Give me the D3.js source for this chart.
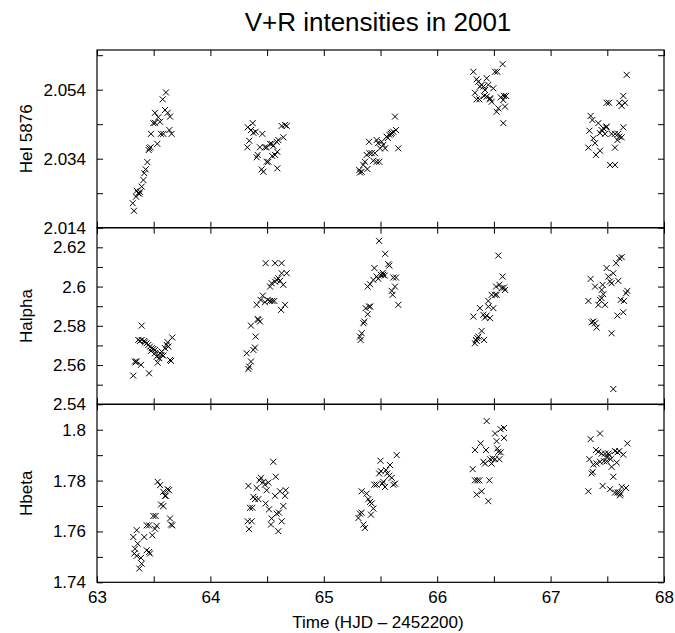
<!DOCTYPE html>
<html><head><meta charset="utf-8">
<script src="https://cdn.jsdelivr.net/npm/d3@7"></script>
<style>
html,body{margin:0;padding:0;background:#fff;}
svg{display:block;font-family:"Liberation Sans",Arial,Helvetica,sans-serif;}
</style></head>
<body>
<svg id="chart" width="675" height="633"></svg>
<script>
// ---------- DATA ----------
const chartTitle = "V+R intensities in 2001";
const xLabel = "Time (HJD \u2013 2452200)";
const xTickValues = [63,63.5,64,64.5,65,65.5,66,66.5,67,67.5,68];
const xTickLabels = ["63","","64","","65","","66","","67","","68"];

const panelNames = ["HeI 5876","Halpha","Hbeta"];
const heIDomain = [2.014, 2.0655];
const halphaDomain = [2.54, 2.63];
const hbetaDomain = [1.74, 1.81];
const heITicks = [2.014,2.024,2.034,2.044,2.054,2.064];
const heITickLabels = ["2.014","","2.034","","2.054",""];
const halphaTicks = [2.54,2.55,2.56,2.57,2.58,2.59,2.60,2.61,2.62];
const halphaTickLabels = ["2.54","","2.56","","2.58","","2.6","","2.62"];
const hbetaTicks = [1.74,1.75,1.76,1.77,1.78,1.79,1.80];
const hbetaTickLabels = ["1.74","","1.76","","1.78","","1.8"];

const heI5876 = [
[63.326,2.0189],[63.315,2.0211],[63.344,2.0230],[63.350,2.0247],[63.364,2.0240],[63.374,2.0238],[63.379,2.0244],[63.394,2.0259],[63.409,2.0278],[63.417,2.0298],[63.429,2.0309],[63.444,2.0330],[63.456,2.0365],[63.462,2.0370],[63.473,2.0373],[63.476,2.0412],[63.497,2.0443],[63.511,2.0444],[63.532,2.0383],[63.511,2.0473],[63.541,2.0460],[63.556,2.0447],[63.564,2.0412],[63.585,2.0412],[63.579,2.0512],[63.608,2.0532],[63.600,2.0481],[63.623,2.0473],[63.644,2.0462],[63.638,2.0423],[63.658,2.0412],
[64.329,2.0431],[64.343,2.0392],[64.326,2.0373],[64.373,2.0443],[64.358,2.0423],[64.379,2.0415],[64.399,2.0418],[64.458,2.0412],[64.417,2.0351],[64.408,2.0344],[64.437,2.0373],[64.481,2.0373],[64.496,2.0373],[64.526,2.0383],[64.540,2.0383],[64.555,2.0377],[64.584,2.0389],[64.599,2.0394],[64.643,2.0402],[64.628,2.0435],[64.658,2.0438],[64.673,2.0435],[64.570,2.0351],[64.590,2.0360],[64.496,2.0331],[64.511,2.0331],[64.452,2.0309],[64.467,2.0302],[64.590,2.0312],[64.545,2.0348],
[65.319,2.0300],[65.334,2.0302],[65.313,2.0307],[65.384,2.0310],[65.349,2.0322],[65.363,2.0331],[65.378,2.0351],[65.402,2.0356],[65.422,2.0356],[65.451,2.0356],[65.437,2.0334],[65.466,2.0331],[65.490,2.0331],[65.399,2.0389],[65.466,2.0394],[65.478,2.0385],[65.510,2.0389],[65.525,2.0380],[65.540,2.0370],[65.496,2.0370],[65.554,2.0404],[65.578,2.0409],[65.599,2.0415],[65.613,2.0418],[65.637,2.0423],[65.628,2.0462],[65.657,2.0370],[65.590,2.0412],[65.565,2.0400],
[66.319,2.0592],[66.348,2.0570],[66.363,2.0563],[66.392,2.0554],[66.377,2.0549],[66.407,2.0549],[66.436,2.0573],[66.451,2.0554],[66.422,2.0539],[66.333,2.0531],[66.348,2.0512],[66.372,2.0512],[66.413,2.0522],[66.436,2.0520],[66.466,2.0512],[66.480,2.0505],[66.495,2.0544],[66.510,2.0592],[66.530,2.0592],[66.577,2.0614],[66.560,2.0518],[66.589,2.0522],[66.607,2.0522],[66.583,2.0510],[66.598,2.0491],[66.524,2.0476],[66.539,2.0486],[66.583,2.0443],[66.466,2.0515],
[67.353,2.0464],[67.368,2.0452],[67.342,2.0421],[67.377,2.0399],[67.392,2.0385],[67.333,2.0372],[67.400,2.0351],[67.436,2.0363],[67.421,2.0443],[67.450,2.0423],[67.436,2.0414],[67.465,2.0428],[67.489,2.0431],[67.494,2.0433],[67.480,2.0412],[67.494,2.0502],[67.515,2.0502],[67.538,2.0412],[67.568,2.0412],[67.597,2.0412],[67.606,2.0404],[67.627,2.0402],[67.641,2.0431],[67.589,2.0394],[67.568,2.0372],[67.606,2.0502],[67.627,2.0493],[67.656,2.0502],[67.641,2.0522],[67.671,2.0583],[67.524,2.0322],[67.568,2.0322]
];

const halpha = [
[63.320,2.5546],[63.335,2.5618],[63.350,2.5618],[63.341,2.5614],[63.388,2.5601],[63.394,2.5801],[63.459,2.5558],[63.364,2.5728],[63.379,2.5723],[63.394,2.5728],[63.417,2.5723],[63.423,2.5716],[63.438,2.5711],[63.453,2.5703],[63.467,2.5694],[63.482,2.5686],[63.497,2.5682],[63.476,2.5672],[63.511,2.5660],[63.526,2.5643],[63.541,2.5652],[63.556,2.5660],[63.570,2.5652],[63.585,2.5648],[63.535,2.5612],[63.550,2.5635],[63.600,2.5686],[63.614,2.5703],[63.629,2.5694],[63.623,2.5716],[63.664,2.5740],[63.644,2.5626],[63.653,2.5621],[63.570,2.5669],[63.511,2.5677],
[64.335,2.5580],[64.343,2.5592],[64.358,2.5618],[64.320,2.5660],[64.379,2.5677],[64.393,2.5689],[64.399,2.5745],[64.358,2.5801],[64.423,2.5830],[64.437,2.5822],[64.417,2.5835],[64.408,2.5907],[64.443,2.5932],[64.462,2.5954],[64.481,2.5920],[64.505,2.5932],[64.526,2.5927],[64.546,2.5927],[64.564,2.5927],[64.526,2.6000],[64.540,2.6017],[64.570,2.6025],[64.584,2.6034],[64.599,2.6042],[64.614,2.6029],[64.643,2.6009],[64.628,2.6068],[64.673,2.6068],[64.487,2.6119],[64.570,2.6119],[64.628,2.6119],[64.623,2.5881],[64.658,2.5907],
[65.319,2.5745],[65.325,2.5728],[65.334,2.5762],[65.349,2.5813],[65.357,2.5822],[65.369,2.5890],[65.387,2.5859],[65.399,2.5898],[65.410,2.5898],[65.387,2.6000],[65.407,2.6012],[65.437,2.6034],[65.446,2.6094],[65.466,2.6051],[65.488,2.6233],[65.541,2.6167],[65.503,2.6060],[65.523,2.6060],[65.537,2.6056],[65.569,2.6114],[65.578,2.6107],[65.613,2.6046],[65.637,2.6046],[65.628,2.6000],[65.599,2.5978],[65.607,2.5958],[65.657,2.5907],[65.480,2.6040],[65.520,2.6070],
[66.319,2.5847],[66.333,2.5711],[66.342,2.5728],[66.354,2.5737],[66.363,2.5745],[66.348,2.5723],[66.392,2.5774],[66.413,2.5728],[66.377,2.5890],[66.407,2.5856],[66.422,2.5842],[66.436,2.5852],[66.451,2.5898],[66.466,2.5839],[66.451,2.5927],[66.480,2.5958],[66.495,2.5890],[66.510,2.5958],[66.524,2.5958],[66.519,2.6000],[66.548,2.6009],[66.577,2.6051],[66.568,2.5992],[66.589,2.5995],[66.598,2.5983],[66.539,2.6158],
[67.353,2.6039],[67.392,2.6000],[67.333,2.5927],[67.377,2.5822],[67.392,2.5813],[67.406,2.5791],[67.362,2.5818],[67.421,2.5907],[67.436,2.5932],[67.450,2.5941],[67.465,2.5961],[67.480,2.5907],[67.459,2.6009],[67.450,2.5983],[67.494,2.6094],[67.509,2.6051],[67.524,2.6026],[67.538,2.6017],[67.553,2.6068],[67.577,2.6119],[67.606,2.6145],[67.627,2.6150],[67.597,2.6029],[67.538,2.5762],[67.589,2.5852],[67.641,2.5869],[67.618,2.5932],[67.647,2.5927],[67.665,2.5966],[67.677,2.5978],[67.553,2.5478]
];

const hbeta = [
[63.320,1.7578],[63.350,1.7605],[63.359,1.7552],[63.335,1.7532],[63.329,1.7513],[63.350,1.7504],[63.388,1.7496],[63.394,1.7473],[63.373,1.7454],[63.417,1.7578],[63.438,1.7624],[63.459,1.7624],[63.438,1.7526],[63.459,1.7519],[63.467,1.7513],[63.488,1.7585],[63.511,1.7611],[63.497,1.7661],[63.517,1.7661],[63.526,1.7622],[63.535,1.7795],[63.556,1.7782],[63.564,1.7706],[63.585,1.7700],[63.600,1.7740],[63.585,1.7756],[63.606,1.7740],[63.623,1.7766],[63.635,1.7762],[63.644,1.7651],[63.653,1.7627],[63.664,1.7624],
[64.335,1.7779],[64.329,1.7640],[64.364,1.7640],[64.340,1.7609],[64.349,1.7693],[64.370,1.7693],[64.379,1.7736],[64.393,1.7727],[64.408,1.7771],[64.423,1.7727],[64.432,1.7801],[64.446,1.7811],[64.467,1.7795],[64.481,1.7784],[64.496,1.7762],[64.511,1.7792],[64.487,1.7710],[64.517,1.7687],[64.540,1.7651],[64.534,1.7627],[64.555,1.7874],[64.576,1.7815],[64.570,1.7740],[64.584,1.7670],[64.605,1.7674],[64.599,1.7601],[64.614,1.7758],[64.628,1.7640],[64.643,1.7700],[64.658,1.7740],[64.664,1.7762],
[65.305,1.7653],[65.319,1.7670],[65.334,1.7674],[65.349,1.7627],[65.363,1.7614],[65.334,1.7758],[65.378,1.7749],[65.393,1.7727],[65.407,1.7716],[65.422,1.7710],[65.416,1.7666],[65.437,1.7690],[65.446,1.7784],[65.466,1.7784],[65.488,1.7828],[65.503,1.7837],[65.500,1.7878],[65.516,1.7788],[65.525,1.7795],[65.540,1.7775],[65.549,1.7841],[65.560,1.7828],[65.578,1.7819],[65.584,1.7861],[65.599,1.7811],[65.613,1.7784],[65.628,1.7788],[65.643,1.7900],
[66.313,1.7845],[66.333,1.7920],[66.383,1.7946],[66.430,1.7920],[66.333,1.7801],[66.354,1.7801],[66.372,1.7801],[66.460,1.7801],[66.348,1.7745],[66.392,1.7758],[66.451,1.7719],[66.407,1.7874],[66.422,1.7867],[66.480,1.7867],[66.489,1.7887],[66.466,1.7884],[66.510,1.7884],[66.548,1.7884],[66.530,1.7926],[66.539,1.7913],[66.560,1.7911],[66.524,1.7955],[66.510,1.7985],[66.589,1.7968],[66.560,1.8002],[66.589,1.8007],[66.436,1.8034],
[67.353,1.7963],[67.436,1.7985],[67.400,1.7920],[67.421,1.7913],[67.450,1.7906],[67.480,1.7906],[67.509,1.7906],[67.494,1.7893],[67.518,1.7900],[67.530,1.7884],[67.568,1.7916],[67.589,1.7911],[67.606,1.7916],[67.641,1.7902],[67.677,1.7946],[67.342,1.7884],[67.377,1.7863],[67.406,1.7867],[67.436,1.7874],[67.471,1.7876],[67.494,1.7876],[67.538,1.7854],[67.583,1.7871],[67.371,1.7834],[67.362,1.7828],[67.333,1.7758],[67.459,1.7779],[67.524,1.7766],[67.553,1.7815],[67.568,1.7753],[67.589,1.7753],[67.606,1.7753],[67.618,1.7749],[67.627,1.7775],[67.665,1.7771],[67.612,1.7742]
];

// ---------- LAYOUT ----------
const W = 675, H = 633;
const left = 97, right = 664;
const bounds = [50, 227.7, 404.3, 582.3];
const font = 17;

const svg = d3.select("#chart");
const x = d3.scaleLinear().domain([63,68]).range([left,right]);

const panels = [
  {name: panelNames[0], domain: heIDomain, ticks: heITicks, labels: heITickLabels, data: heI5876},
  {name: panelNames[1], domain: halphaDomain, ticks: halphaTicks, labels: halphaTickLabels, data: halpha},
  {name: panelNames[2], domain: hbetaDomain, ticks: hbetaTicks, labels: hbetaTickLabels, data: hbeta}
];

svg.append("text")
  .attr("x", 378).attr("y", 30.5)
  .attr("text-anchor","middle")
  .attr("font-size", 26)
  .text(chartTitle);

const cross = "M-3,-3L3,3M3,-3L-3,3";

panels.forEach((p, i) => {
  const top = bounds[i], bot = bounds[i+1];
  const y = d3.scaleLinear().domain(p.domain).range([bot, top]);
  const g = svg.append("g");

  // y axis left (ticks inward, labels outside)
  const yl = g.append("g").attr("transform", `translate(${left},0)`)
    .call(d3.axisLeft(y).tickValues(p.ticks)
      .tickFormat((d,k) => p.labels[k]).tickSize(-6).tickPadding(11).tickSizeOuter(0));
  const yr = g.append("g").attr("transform", `translate(${right},0)`)
    .call(d3.axisRight(y).tickValues(p.ticks).tickFormat("").tickSize(-6).tickSizeOuter(0));
  const xt = g.append("g").attr("transform", `translate(0,${top})`)
    .call(d3.axisTop(x).tickValues(xTickValues).tickFormat("").tickSize(-6).tickSizeOuter(0));
  const xb = g.append("g").attr("transform", `translate(0,${bot})`)
    .call(d3.axisBottom(x).tickValues(xTickValues)
      .tickFormat((d,k) => i === 2 ? xTickLabels[k] : "").tickSize(-6).tickPadding(9).tickSizeOuter(0));

  [yl, yr, xt, xb].forEach(a => {
    a.select(".domain").remove();
    a.selectAll("line").attr("stroke","#000").attr("stroke-width",1);
    a.selectAll("text").attr("font-size", font).attr("fill","#000")
      .attr("font-family",'"Liberation Sans",Arial,Helvetica,sans-serif');
  });

  // frame
  g.append("rect")
    .attr("x", left).attr("y", top)
    .attr("width", right-left).attr("height", bot-top)
    .attr("fill","none").attr("stroke","#000").attr("stroke-width",1.2);

  // y label
  g.append("text")
    .attr("transform", `translate(32,${(top+bot)/2}) rotate(-90)`)
    .attr("text-anchor","middle")
    .attr("font-size", font)
    .text(p.name);

  // points
  g.append("g").selectAll("path").data(p.data).join("path")
    .attr("transform", d => `translate(${x(d[0])},${y(d[1])})`)
    .attr("d", cross)
    .attr("fill","none").attr("stroke","#000").attr("stroke-width",1);
});

svg.append("text")
  .attr("x", 378).attr("y", 628)
  .attr("text-anchor","middle")
  .attr("font-size", font)
  .text(xLabel);
</script>
</body></html>
